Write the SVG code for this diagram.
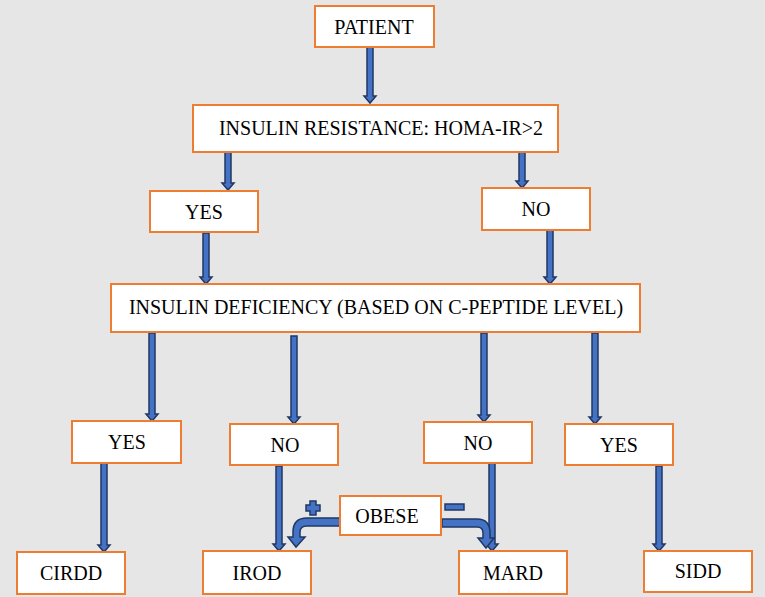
<svg xmlns="http://www.w3.org/2000/svg" width="765" height="597" viewBox="0 0 765 597">
<style>
.box{fill:#ffffff;stroke:#ED7D31;stroke-width:2}
.t{font-family:"Liberation Serif","Times New Roman",serif;font-size:20px;fill:#000;text-anchor:middle}
.arr{fill:#4472C4;stroke:#1F3864;stroke-width:1.5;stroke-linejoin:miter}
</style>
<rect x="0" y="0" width="765" height="597" fill="#E7E6E6"/>
<g id="connectors">
<path class="arr" d="M367,47 V96 H364 L370,103 L376,96 H373 V47 Z"/>
<path class="arr" d="M225,152 V183 H222 L228,190 L234,183 H231 V152 Z"/>
<path class="arr" d="M519,152 V181 H516 L522,188 L528,181 H525 V152 Z"/>
<path class="arr" d="M203,233 V277 H200 L206,284 L212,277 H209 V233 Z"/>
<path class="arr" d="M547,230 V277 H544 L550,284 L556,277 H553 V230 Z"/>
<path class="arr" d="M149,333 V414 H146 L152,421 L158,414 H155 V333 Z"/>
<path class="arr" d="M291,336 V417 H288 L294,424 L300,417 H297 V336 Z"/>
<path class="arr" d="M481,333 V415 H478 L484,422 L490,415 H487 V333 Z"/>
<path class="arr" d="M592,333 V417 H589 L595,424 L601,417 H598 V333 Z"/>
<path class="arr" d="M101,463 V545 H98 L104,552 L110,545 H107 V463 Z"/>
<path class="arr" d="M276,466 V544 H273 L279,551 L285,544 H282 V466 Z"/>
<path class="arr" d="M489,463 V544 H486 L492,551 L498,544 H495 V463 Z"/>
<path class="arr" d="M656,466 V544 H653 L659,551 L665,544 H662 V466 Z"/>
<path class="arr" d="M340,518 H307 Q293,518 293,532 V537 H288 L296,547 L305,537 H300 V532 Q300,526 307,526 H340 Z"/>
<path class="arr" d="M442,519 H477 Q490,519 490,533 V538 H494 L486,548 L478,538 H483 V533 Q483,527 477,527 H442 Z"/>
<path class="arr" d="M310,501 H316 V505 H320 V511 H316 V515 H310 V511 H306 V505 H310 Z"/>
<rect class="arr" x="445" y="504" width="19" height="6"/>
</g>
<g id="patient"><rect class="box" x="315" y="6" width="119" height="41"/><text class="t" x="374" y="34">PATIENT</text></g>
<g id="insulin-resistance"><rect class="box" x="193" y="105" width="365" height="47"/><text class="t" x="381" y="135">INSULIN RESISTANCE: HOMA-IR&gt;2</text></g>
<g id="yes-ir"><rect class="box" x="150" y="191" width="108" height="41"/><text class="t" x="204" y="219">YES</text></g>
<g id="no-ir"><rect class="box" x="482" y="188" width="108" height="42"/><text class="t" x="536" y="216">NO</text></g>
<g id="insulin-deficiency"><rect class="box" x="111" y="284" width="529" height="48"/><text class="t" x="376" y="314">INSULIN DEFICIENCY (BASED ON C-PEPTIDE LEVEL)</text></g>
<g id="yes-1"><rect class="box" x="72" y="421" width="109" height="42"/><text class="t" x="127" y="449">YES</text></g>
<g id="no-1"><rect class="box" x="230" y="424" width="108" height="41"/><text class="t" x="285" y="452">NO</text></g>
<g id="no-2"><rect class="box" x="424" y="422" width="108" height="41"/><text class="t" x="478" y="450">NO</text></g>
<g id="yes-2"><rect class="box" x="565" y="424" width="108" height="41"/><text class="t" x="619" y="452">YES</text></g>
<g id="obese"><rect class="box" x="340" y="496" width="101" height="39"/><text class="t" x="387" y="523">OBESE</text></g>
<g id="cirdd"><rect class="box" x="17" y="552" width="108" height="42"/><text class="t" x="71" y="580">CIRDD</text></g>
<g id="irod"><rect class="box" x="203" y="551" width="108" height="43"/><text class="t" x="257" y="580">IROD</text></g>
<g id="mard"><rect class="box" x="459" y="551" width="108" height="43"/><text class="t" x="513" y="580">MARD</text></g>
<g id="sidd"><rect class="box" x="644" y="551" width="108" height="41"/><text class="t" x="698" y="578">SIDD</text></g>
</svg>
